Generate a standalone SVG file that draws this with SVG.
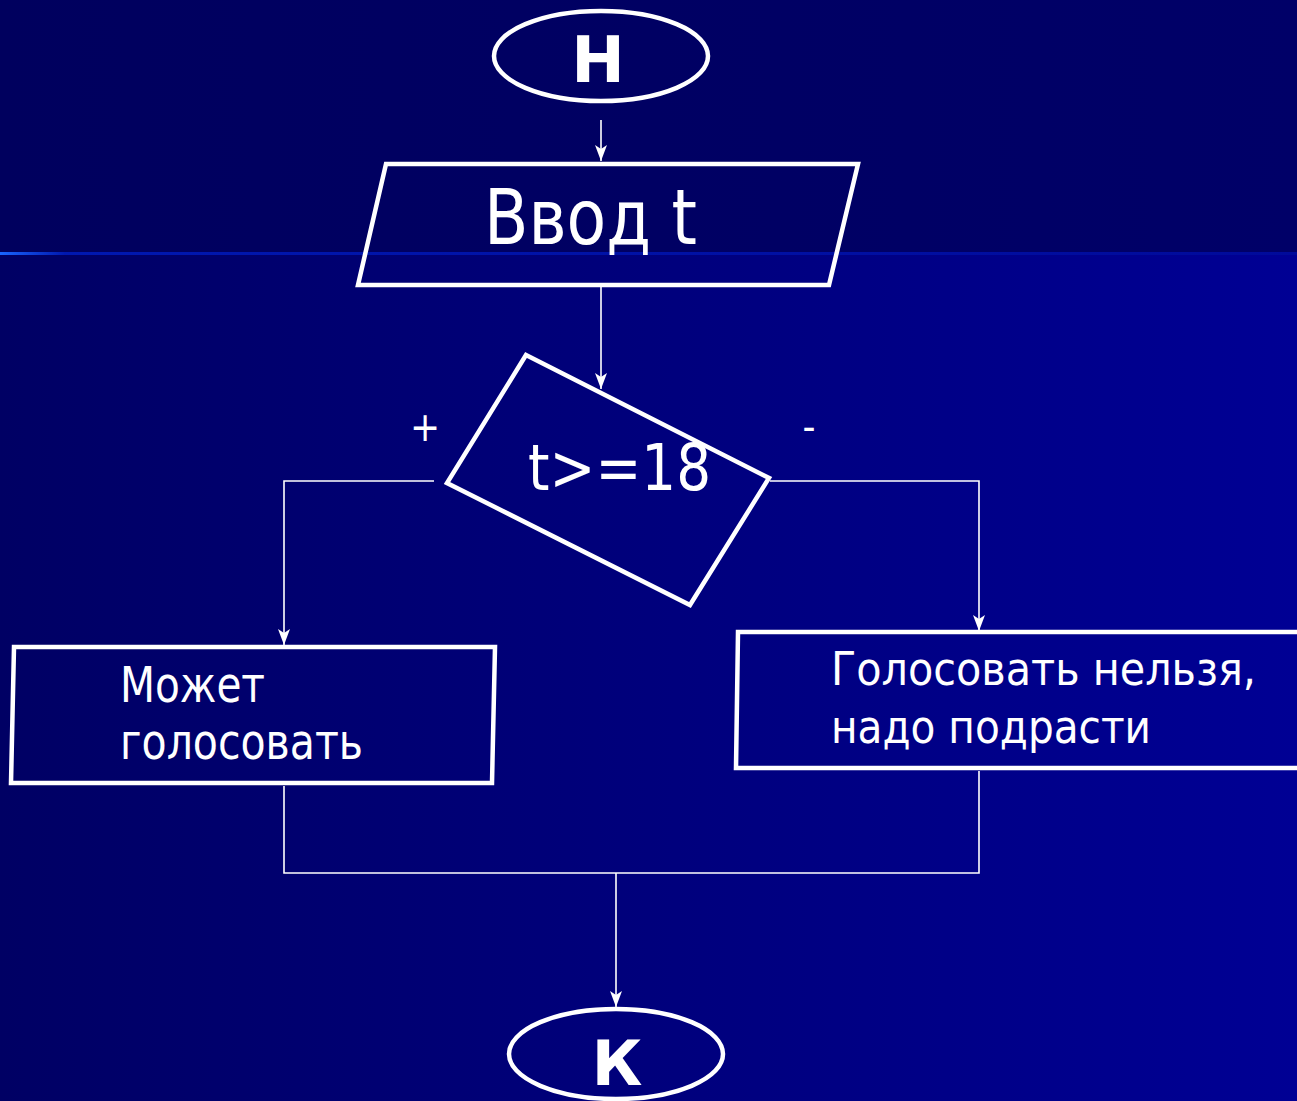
<svg xmlns="http://www.w3.org/2000/svg" width="1297" height="1101" viewBox="0 0 1297 1101">
<defs>
<linearGradient id="bgTop" x1="0" y1="0" x2="1" y2="0">
<stop offset="0" stop-color="#00005e"/>
<stop offset="1" stop-color="#000068"/>
</linearGradient>
<linearGradient id="bgBot" x1="0" y1="0" x2="1" y2="0">
<stop offset="0" stop-color="#000064"/>
<stop offset="1" stop-color="#000094"/>
</linearGradient>
<linearGradient id="rule" x1="0" y1="0" x2="1" y2="0">
<stop offset="0" stop-color="#1a66ff"/>
<stop offset="0.05" stop-color="#0018b0"/>
<stop offset="1" stop-color="#000a9a"/>
</linearGradient>
<marker id="arrd" markerWidth="12" markerHeight="16" refX="6" refY="16" orient="0" markerUnits="userSpaceOnUse" viewBox="0 0 12 16">
<path d="M0,0 L6,16 L12,0 L6,4 Z" fill="#ffffff"/>
</marker>
</defs>
<style>
.shape { fill: none; stroke: #ffffff; stroke-width: 4.5; }
.conn { fill: none; stroke: #ffffff; stroke-width: 1.6; }
.txt { fill: #ffffff; font-family: "DejaVu Sans Condensed", "DejaVu Sans", "Liberation Sans", sans-serif; }
.bold { font-weight: bold; font-family: "DejaVu Sans", "Liberation Sans", sans-serif; }
</style>
<rect x="0" y="0" width="1297" height="1101" fill="url(#bgBot)"/>
<rect x="0" y="0" width="1297" height="254" fill="url(#bgTop)"/>
<rect x="0" y="252" width="1297" height="3" fill="url(#rule)"/>

<g id="connectors">
<line class="conn" x1="601" y1="120" x2="601" y2="161" marker-end="url(#arrd)"/>
<line class="conn" x1="601" y1="287" x2="601" y2="389" marker-end="url(#arrd)"/>
<polyline class="conn" points="434,481 284,481 284,645" marker-end="url(#arrd)"/>
<polyline class="conn" points="770,481 979,481 979,631" marker-end="url(#arrd)"/>
<polyline class="conn" points="284,786 284,873 979,873 979,771"/>
<line class="conn" x1="616" y1="873" x2="616" y2="1007" marker-end="url(#arrd)"/>
</g>

<g id="start">
<ellipse class="shape" cx="601" cy="56" rx="107" ry="45"/>
<text class="txt bold" x="598" y="82" font-size="64" text-anchor="middle">Н</text>
</g>

<g id="input">
<polygon class="shape" points="386,164 858,164 829,285 358,285"/>
<text class="txt" x="484" y="244" font-size="77" textLength="213" lengthAdjust="spacingAndGlyphs">Ввод t</text>
</g>

<g id="decision">
<polygon class="shape" points="526,355 769,478 690,605 447,483"/>
<text class="txt" x="528" y="490" font-size="64" textLength="183" lengthAdjust="spacingAndGlyphs">t&gt;=18</text>
</g>

<g id="label-plus">
<text class="txt" x="425" y="441" font-size="40" text-anchor="middle">+</text>
</g>
<g id="label-minus">
<text class="txt" x="809" y="441" font-size="40" text-anchor="middle">-</text>
</g>

<g id="yes-box">
<polygon class="shape" points="14,647 495,647 492,783 11,783"/>
<text class="txt" x="120" y="702" font-size="49" textLength="145" lengthAdjust="spacingAndGlyphs">Может</text>
<text class="txt" x="120" y="759" font-size="49" textLength="243" lengthAdjust="spacingAndGlyphs">голосовать</text>
</g>

<g id="no-box">
<polygon class="shape" points="738,632 1302,632 1300,768 736,768"/>
<text class="txt" x="831" y="685" font-size="47" textLength="425" lengthAdjust="spacingAndGlyphs">Голосовать нельзя,</text>
<text class="txt" x="831" y="743" font-size="47" textLength="320" lengthAdjust="spacingAndGlyphs">надо подрасти</text>
</g>

<g id="end">
<ellipse class="shape" cx="616" cy="1054" rx="107" ry="45"/>
<text class="txt bold" x="617" y="1085" font-size="62" text-anchor="middle">К</text>
</g>
</svg>
